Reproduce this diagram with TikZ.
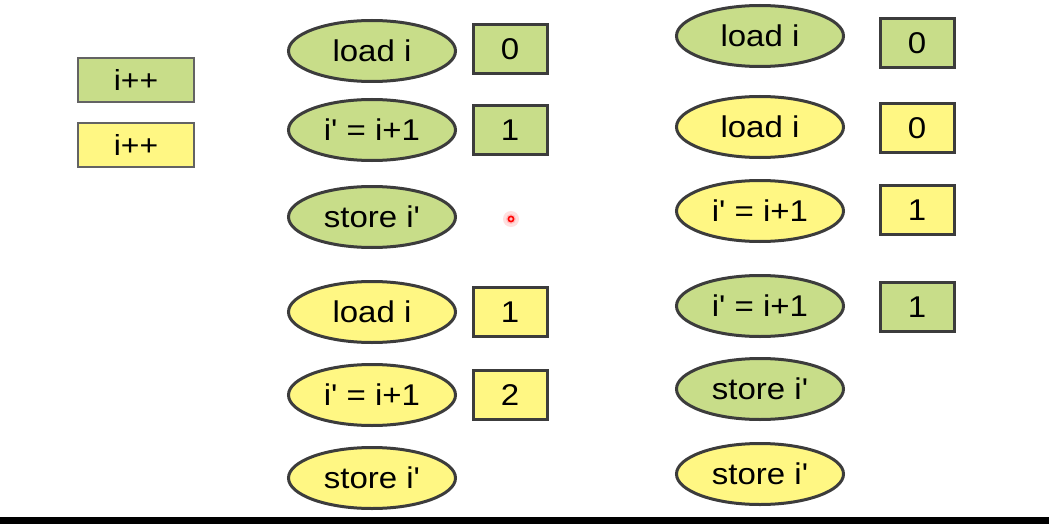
\documentclass[tikz,border=0pt]{standalone}
\usepackage{fontspec}
\newfontfamily\labfont[FakeStretch=1.1]{Liberation Sans}
\usetikzlibrary{shapes.geometric}
\definecolor{gfill}{RGB}{200,221,137}
\definecolor{yfill}{RGB}{255,247,131}
\definecolor{edge}{RGB}{60,60,60}
\tikzset{
  lab/.style={font=\labfont\fontsize{30}{32}\selectfont, text=black},
  op/.style={lab, ellipse, draw=edge, line width=3pt, inner sep=0pt, minimum width=167pt, minimum height=61pt},
  val/.style={lab, rectangle, draw=edge, line width=3pt, inner sep=0pt, minimum width=74pt, minimum height=49pt},
  legend/.style={lab, font=\labfont\fontsize{29}{31}\selectfont, rectangle, draw=edge!80, line width=2pt, inner sep=0pt, minimum width=116pt, minimum height=44pt},
  g/.style={fill=gfill},
  yy/.style={fill=yfill}
}
\begin{document}
\begin{tikzpicture}[x=1pt,y=-1pt]
\useasboundingbox (0,0) rectangle (1049,524);
\fill[white] (0,0) rectangle (1049,524);
% legend
\node[legend,g]  (lg) at (136,80)  {i++};
\node[legend,yy] (ly) at (136,145) {i++};
% middle column
\node[op,g]  (m1) at (372,51)  {load i};
\node[op,g]  (m2) at (372,130) {i' = i+1};
\node[op,g]  (m3) at (372,217) {store i'};
\node[op,yy] (m4) at (372,312) {load i};
\node[op,yy] (m5) at (372,395) {i' = i+1};
\node[op,yy] (m6) at (372,478) {store i'};
\node[val,g]  (mv1) at (510,49)  {0};
\node[val,g]  (mv2) at (510,130) {1};
\node[val,yy] (mv4) at (510,312) {1};
\node[val,yy] (mv5) at (510,395) {2};
% right column
\node[op,g]  (r1) at (760,36)  {load i};
\node[op,yy] (r2) at (760,127) {load i};
\node[op,yy] (r3) at (760,211) {i' = i+1};
\node[op,g]  (r4) at (760,306) {i' = i+1};
\node[op,g]  (r5) at (760,389) {store i'};
\node[op,yy] (r6) at (760,474) {store i'};
\node[val,g]  (rv1) at (917,43)  {0};
\node[val,yy] (rv2) at (917,128) {0};
\node[val,yy] (rv3) at (917,210) {1};
\node[val,g]  (rv4) at (917,307) {1};
% laser pointer dot
\fill[red!12] (511,219) circle (8);
\fill[red!25] (511,219) circle (5);
\draw[red, line width=1.6pt] (511,219) circle (2.6);
% bottom bar
\fill[black] (0,517) rectangle (1049,524);
\end{tikzpicture}
\end{document}
